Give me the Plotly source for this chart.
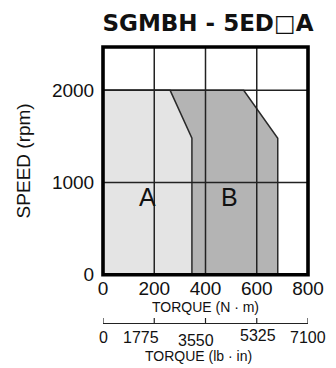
import plotly.graph_objects as go

# ---- data ----
title_text = "SGMBH - 5ED□A"
torque_nm_ticks = [0, 200, 400, 600, 800]
torque_lbin_ticks = [0, 1775, 3550, 5325, 7100]
speed_ticks = [0, 1000, 2000]

# region A (continuous duty) outline: torque (N·m), speed (rpm)
region_a_torque = [0, 0, 262, 347, 347]
region_a_speed = [0, 2000, 2000, 1480, 0]
# region B (intermittent duty) outline
region_b_torque = [0, 0, 549, 682, 682]
region_b_speed = [0, 2000, 2000, 1480, 0]

label_a = ("A", 172, 846)
label_b = ("B", 494, 846)

# ---- layout constants ----
W, H = 336, 368
L, R, T, B = 103, 22.3, 47.2, 44.7
plot_bottom_px = 275.0
paper_h = H - T - B
ydom0 = (H - B - plot_bottom_px) / paper_h

FONT = "Liberation Sans, Arial, sans-serif"

fig = go.Figure()

fig.add_trace(go.Scatter(
    x=region_b_torque, y=region_b_speed, mode="lines", fill="toself",
    fillcolor="#b4b4b4", line=dict(color="#2a2a2a", width=1.5),
    showlegend=False, hoverinfo="skip"))
fig.add_trace(go.Scatter(
    x=region_a_torque, y=region_a_speed, mode="lines", fill="toself",
    fillcolor="#e4e4e4", line=dict(color="#2a2a2a", width=1.5),
    showlegend=False, hoverinfo="skip"))
# invisible trace so the secondary (lb·in) axis is drawn
fig.add_trace(go.Scatter(
    x=torque_lbin_ticks, y=[None] * len(torque_lbin_ticks), xaxis="x2", yaxis="y",
    mode="markers", showlegend=False, hoverinfo="skip"))

shapes = []
for v in torque_nm_ticks[1:-1]:
    shapes.append(dict(type="line", xref="x", yref="y domain", x0=v, x1=v, y0=0, y1=1,
                       line=dict(color="#222", width=1.5), layer="above"))
for v in speed_ticks[1:]:
    shapes.append(dict(type="line", xref="x domain", yref="y", x0=0, x1=1, y0=v, y1=v,
                       line=dict(color="#222", width=1.5), layer="above"))
shapes.append(dict(type="rect", xref="x domain", yref="y domain", x0=0, x1=1, y0=0, y1=1,
                   line=dict(color="#000", width=3.6), layer="above"))
# upward tick marks on the lb·in scale
for v in torque_lbin_ticks:
    shapes.append(dict(type="line", xref="x2", x0=v, x1=v, yref="paper", ysizemode="pixel",
                       yanchor=0, y0=0, y1=5, line=dict(color="#222", width=1.2)))

annotations = []
for txt, xv, yv in (label_a, label_b):
    annotations.append(dict(text=txt, x=xv, y=yv, xref="x", yref="y", showarrow=False,
                            font=dict(family=FONT, size=25, color="#111")))

# secondary axis labels (lb·in) with their slight offsets as in the original
lb_offsets = [(0, -14), (-13.5, -14), (-9.3, -17), (0.8, -12.5), (0, -14)]
for v, (dx, dy) in zip(torque_lbin_ticks, lb_offsets):
    annotations.append(dict(text=str(v), x=v, y=0, xref="x2", yref="paper", showarrow=False,
                            xshift=dx, yshift=dy, yanchor="middle", xanchor="center",
                            font=dict(family=FONT, size=16, color="#111")))
annotations.append(dict(text="TORQUE (lb · in)", x=3550, y=0, xref="x2", yref="paper",
                        showarrow=False, xshift=-7, yshift=-33, yanchor="middle",
                        font=dict(family=FONT, size=14, color="#111")))

fig.update_layout(
    width=W, height=H,
    margin=dict(l=L, r=R, t=T, b=B, pad=0),
    paper_bgcolor="white", plot_bgcolor="white",
    title=dict(text=title_text, x=208 / W, xanchor="center", y=1 - 23 / H, yanchor="middle",
               font=dict(family="DejaVu Sans", size=23, color="#111", weight="bold")),
    xaxis=dict(range=[0, 800], tickvals=torque_nm_ticks, showgrid=False, zeroline=False,
               showline=False, ticks="", tickfont=dict(family=FONT, size=19, color="#111"),
               title=dict(text="TORQUE (N · m)", font=dict(family=FONT, size=14, color="#111"),
                          standoff=4),
               anchor="y", fixedrange=True),
    xaxis2=dict(range=[0, 7100], overlaying="x", anchor="free", position=0, side="bottom",
                tickvals=torque_lbin_ticks, showticklabels=False, showgrid=False, zeroline=False,
                showline=True, linecolor="#222", linewidth=1.2, ticks=""),
    yaxis=dict(range=[0, 2470], domain=[ydom0, 1], tickvals=speed_ticks, showgrid=False,
               zeroline=False, showline=False, ticks="outside", ticklen=4,
               tickcolor="rgba(0,0,0,0)",
               tickfont=dict(family=FONT, size=19, color="#111"),
               title=dict(text="SPEED (rpm)", font=dict(family=FONT, size=19, color="#111"),
                          standoff=16)),
    shapes=shapes,
    annotations=annotations,
    showlegend=False,
)

fig.write_html(
    "out.html",
    config={"displayModeBar": False},
    post_script="document.body.style.margin='0';document.body.style.padding='0';"
                "document.documentElement.style.overflow='hidden';",
)
